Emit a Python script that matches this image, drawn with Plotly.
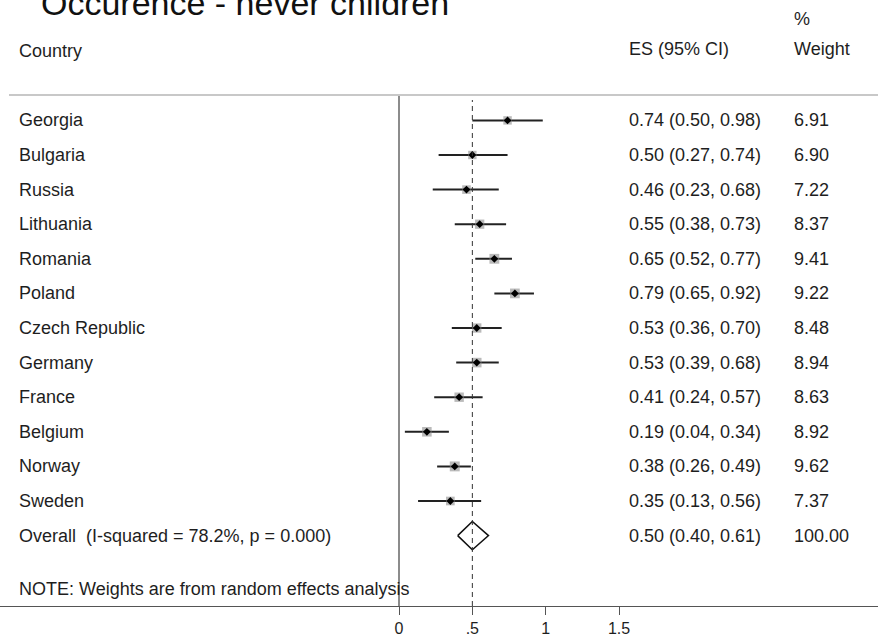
import numpy as np
import plotly.graph_objects as go

# ---------------- data ----------------
countries = ["Georgia", "Bulgaria", "Russia", "Lithuania", "Romania", "Poland",
             "Czech Republic", "Germany", "France", "Belgium", "Norway", "Sweden"]
es = [0.74, 0.50, 0.46, 0.55, 0.65, 0.79, 0.53, 0.53, 0.41, 0.19, 0.38, 0.35]
ci_low = [0.50, 0.27, 0.23, 0.38, 0.52, 0.65, 0.36, 0.39, 0.24, 0.04, 0.26, 0.13]
ci_high = [0.98, 0.74, 0.68, 0.73, 0.77, 0.92, 0.70, 0.68, 0.57, 0.34, 0.49, 0.56]
weights = [6.91, 6.90, 7.22, 8.37, 9.41, 9.22, 8.48, 8.94, 8.63, 8.92, 9.62, 7.37]

overall_label = "Overall  (I-squared = 78.2%, p = 0.000)"
overall_es = 0.50
overall_low = 0.40
overall_high = 0.61
overall_weight = 100.00

tick_vals = [0, 0.5, 1, 1.5]
tick_text = ["0", ".5", "1", "1.5"]

title_text = "Occurence - never children"
note_text = "NOTE: Weights are from random effects analysis"

# ---------------- layout geometry ----------------
W, H = 878, 637
PLOT_BOTTOM = 606          # pixel of x-axis line
ROW0, ROW_STEP = 120.4, 34.6
X0_PX, X_UNIT = 399.0, 146.7

def row_of_px(p):
    return (p - ROW0) / ROW_STEP

def paper_x(px):
    return px / W

def paper_y(py):
    return 1 - py / PLOT_BOTTOM

FONT = "Liberation Sans, Arial, sans-serif"
TXT = "#1e1e1e"

n = len(countries)
rows = list(range(n))
overall_row = n

fig = go.Figure()

# CI lines
xs, ys = [], []
for i, (lo, hi) in enumerate(zip(ci_low, ci_high)):
    xs += [lo, hi, None]
    ys += [i, i, None]
fig.add_trace(go.Scatter(x=xs, y=ys, mode="lines",
                         line=dict(color="#222222", width=2),
                         hoverinfo="skip", showlegend=False))

# weight boxes
fig.add_trace(go.Scatter(x=es, y=rows, mode="markers",
                         marker=dict(symbol="square",
                                     size=[3.2 * np.sqrt(w) for w in weights],
                                     color="rgba(140,140,140,0.85)",
                                     line=dict(width=0)),
                         hoverinfo="skip", showlegend=False))
# point estimates
fig.add_trace(go.Scatter(x=es, y=rows, mode="markers",
                         marker=dict(symbol="diamond", size=6, color="#000000"),
                         hoverinfo="skip", showlegend=False))

# overall diamond
dh = 0.41
fig.add_trace(go.Scatter(
    x=[overall_low, overall_es, overall_high, overall_es, overall_low],
    y=[overall_row, overall_row - dh, overall_row, overall_row + dh, overall_row],
    mode="lines", line=dict(color="#111111", width=1.5),
    hoverinfo="skip", showlegend=False))

# reference lines
fig.add_shape(type="line", xref="x", yref="paper", x0=0, x1=0,
              y0=0, y1=paper_y(95), line=dict(color="#666666", width=1.5))
fig.add_shape(type="line", xref="x", yref="paper", x0=overall_es, x1=overall_es,
              y0=0, y1=paper_y(100), line=dict(color="#333333", width=1, dash="5px,4px"))
# header rule
fig.add_shape(type="line", xref="paper", yref="paper", x0=paper_x(9), x1=1,
              y0=paper_y(95), y1=paper_y(95), line=dict(color="#c8c8c8", width=2))

annots = []
def add_text(txt, xpx, y, yref="y", size=18, color=TXT):
    annots.append(dict(text=txt, x=paper_x(xpx), xref="paper", y=y, yref=yref,
                       xanchor="left", yanchor="middle", showarrow=False,
                       font=dict(family=FONT, size=size, color=color)))

# title
add_text(title_text, 39, paper_y(3), yref="paper", size=34, color="#111111")
# headers
add_text("Country", 17, paper_y(51), yref="paper")
add_text("ES (95% CI)", 627, paper_y(49), yref="paper")
add_text("%", 792, paper_y(19), yref="paper")
add_text("Weight", 792, paper_y(49), yref="paper")

for i, c in enumerate(countries):
    add_text(c, 17, i)
    add_text(f"{es[i]:.2f} ({ci_low[i]:.2f}, {ci_high[i]:.2f})", 627, i)
    add_text(f"{weights[i]:.2f}", 792, i)

add_text(overall_label, 17, overall_row)
add_text(f"{overall_es:.2f} ({overall_low:.2f}, {overall_high:.2f})", 627, overall_row)
add_text(f"{overall_weight:.2f}", 792, overall_row)

add_text(note_text, 17, paper_y(589), yref="paper")

x_left = -X0_PX / X_UNIT
x_right = (W - X0_PX) / X_UNIT

fig.update_layout(
    width=W, height=H,
    margin=dict(l=0, r=0, t=0, b=H - PLOT_BOTTOM, pad=0),
    paper_bgcolor="white", plot_bgcolor="white",
    annotations=annots,
    showlegend=False,
    xaxis=dict(range=[x_left, x_right], showgrid=False, zeroline=False,
               showline=True, linecolor="#555555", linewidth=1,
               ticks="outside", ticklen=8, tickcolor="#555555", tickwidth=1,
               tickvals=tick_vals, ticktext=tick_text,
               tickfont=dict(family=FONT, size=16, color=TXT), fixedrange=True),
    yaxis=dict(range=[row_of_px(PLOT_BOTTOM), row_of_px(0)], visible=False,
               showgrid=False, zeroline=False, fixedrange=True),
)

fig.write_html("out.html", config={"displayModeBar": False},
               post_script="document.body.style.margin='0';document.body.style.overflow='hidden';")
